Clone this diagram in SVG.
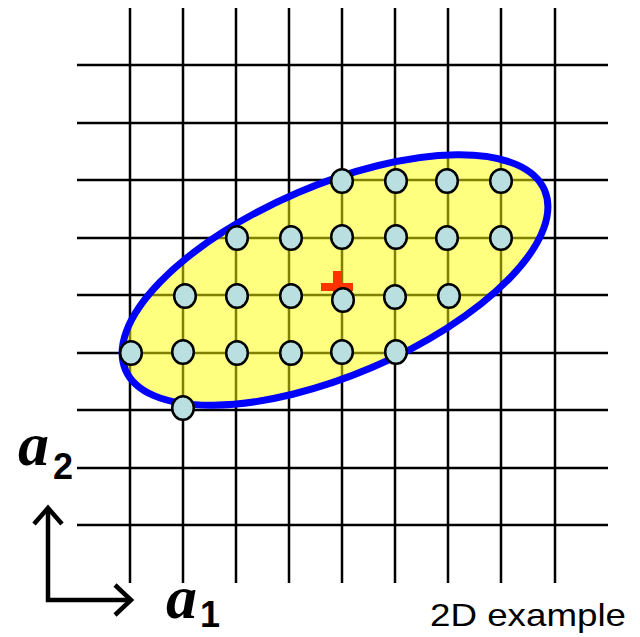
<svg xmlns="http://www.w3.org/2000/svg" width="640" height="637" viewBox="0 0 640 637">
<style>
.grid line{stroke:#000;stroke-width:2.5}
.pt{fill:#B9DFE1;stroke:#000;stroke-width:2.5}
.ax{fill:none;stroke:#000;stroke-width:4.5}
.sym{font-family:"Liberation Serif",serif;font-weight:bold;font-style:italic;font-size:62px;fill:#000}
.sub{font-family:"Liberation Sans",Arial,sans-serif;font-weight:bold;font-size:36px;fill:#000}
.lbl{font-family:"Liberation Sans",Arial,sans-serif;font-size:32px;fill:#000}
</style>
<rect width="640" height="637" fill="#fff"/>
<g id="grid" class="grid">
<line x1="130" y1="8" x2="130" y2="583"/>
<line x1="183" y1="8" x2="183" y2="583"/>
<line x1="236" y1="8" x2="236" y2="583"/>
<line x1="289" y1="8" x2="289" y2="583"/>
<line x1="342" y1="8" x2="342" y2="583"/>
<line x1="395" y1="8" x2="395" y2="583"/>
<line x1="448" y1="8" x2="448" y2="583"/>
<line x1="501" y1="8" x2="501" y2="583"/>
<line x1="555" y1="8" x2="555" y2="583"/>
<line x1="77" y1="65" x2="608" y2="65"/>
<line x1="77" y1="123" x2="608" y2="123"/>
<line x1="77" y1="180" x2="608" y2="180"/>
<line x1="77" y1="238" x2="608" y2="238"/>
<line x1="77" y1="295" x2="608" y2="295"/>
<line x1="77" y1="353" x2="608" y2="353"/>
<line x1="77" y1="410" x2="608" y2="410"/>
<line x1="77" y1="468" x2="608" y2="468"/>
<line x1="77" y1="525" x2="608" y2="525"/>
</g>
<g id="region">
<ellipse cx="335" cy="280" rx="228" ry="95" transform="rotate(-23.2 335 280)" fill="#FFFF00" fill-opacity="0.5" stroke="#0000FF" stroke-width="7"/>
</g>
<g id="mean">
<rect x="321" y="283" width="32" height="8" fill="#FF3300"/>
<rect x="333" y="271" width="9" height="30" fill="#FF3300"/>
</g>
<g id="points">
<ellipse class="pt" cx="342" cy="181" rx="10.8" ry="11.8"/>
<ellipse class="pt" cx="396" cy="181" rx="10.8" ry="11.8"/>
<ellipse class="pt" cx="447" cy="181" rx="10.8" ry="11.8"/>
<ellipse class="pt" cx="501" cy="181" rx="10.8" ry="11.8"/>
<ellipse class="pt" cx="237" cy="238" rx="10.8" ry="11.8"/>
<ellipse class="pt" cx="291" cy="238" rx="10.8" ry="11.8"/>
<ellipse class="pt" cx="342" cy="237" rx="10.8" ry="11.8"/>
<ellipse class="pt" cx="396" cy="237" rx="10.8" ry="11.8"/>
<ellipse class="pt" cx="447" cy="238" rx="10.8" ry="11.8"/>
<ellipse class="pt" cx="501" cy="238" rx="10.8" ry="11.8"/>
<ellipse class="pt" cx="185" cy="296" rx="10.8" ry="11.8"/>
<ellipse class="pt" cx="237" cy="296" rx="10.8" ry="11.8"/>
<ellipse class="pt" cx="291" cy="296" rx="10.8" ry="11.8"/>
<ellipse class="pt" cx="343" cy="300" rx="10.8" ry="11.8"/>
<ellipse class="pt" cx="395" cy="297" rx="10.8" ry="11.8"/>
<ellipse class="pt" cx="449" cy="296" rx="10.8" ry="11.8"/>
<ellipse class="pt" cx="131" cy="353" rx="10.8" ry="11.8"/>
<ellipse class="pt" cx="183" cy="352" rx="10.8" ry="11.8"/>
<ellipse class="pt" cx="237" cy="353" rx="10.8" ry="11.8"/>
<ellipse class="pt" cx="291" cy="353" rx="10.8" ry="11.8"/>
<ellipse class="pt" cx="342" cy="352" rx="10.8" ry="11.8"/>
<ellipse class="pt" cx="396" cy="352" rx="10.8" ry="11.8"/>
<ellipse class="pt" cx="183" cy="408" rx="10.8" ry="11.8"/>
</g>
<g id="axes">
<polyline class="ax" points="48,509 48,600 131,600"/>
<polyline class="ax" points="34,524 48,508 62,524"/>
<polyline class="ax" points="115,585 131,600 115,615"/>
</g>
<g id="labels">
<text class="sym" x="166" y="618">a</text>
<text class="sym" x="18" y="465">a</text>
<text class="sub" x="53" y="479">2</text>
<text class="sub" x="200" y="627" font-size="34">1</text>
<text class="lbl" x="430" y="626" textLength="196" lengthAdjust="spacingAndGlyphs">2D example</text>
</g>
</svg>
